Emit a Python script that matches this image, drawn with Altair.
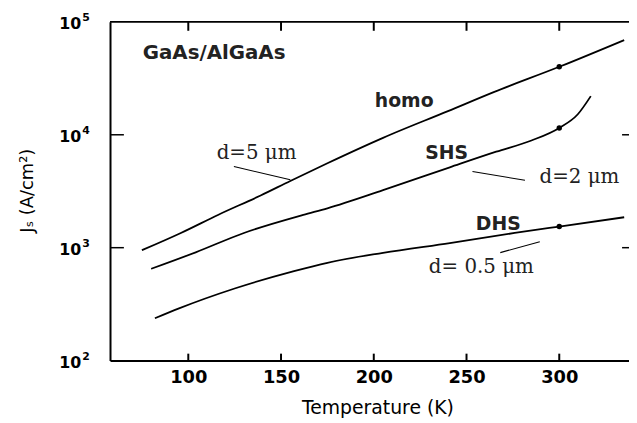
import altair as alt
import pandas as pd

# ---- data ----
homo_T = [75, 96, 116, 139, 155, 175, 205, 240, 265, 300, 335]
homo_J = [950, 1350, 1950, 2900, 3900, 5600, 9400, 16200, 24000, 40000, 69000]

shs_T = [80, 104, 130, 162, 175, 205, 241, 266, 285, 300, 310, 317]
shs_J = [650, 910, 1350, 1950, 2230, 3230, 5150, 7080, 8900, 11500, 15200, 22000]

dhs_T = [82, 95, 125, 157, 175, 205, 241, 276, 300, 335]
dhs_J = [237, 290, 435, 620, 735, 900, 1100, 1350, 1540, 1860]

dot_T = [300, 300, 300]
dot_J = [40000, 11500, 1540]

x_ticks = [100, 150, 200, 250, 300]
y_ticks = [100, 1000, 10000, 100000]
y_exp = ["2", "3", "4", "5"]
y_inner_ticks = [1000, 10000]

# annotations
curve_labels = ["homo", "SHS", "DHS"]
curve_label_T = [216.4, 239.3, 267.1]
curve_label_J = [19900, 6950, 1625]

d_labels = ["d=5 \u03bcm", "d=2 \u03bcm", "d= 0.5 \u03bcm"]
d_label_T = [136.8, 310.9, 258.0]
d_label_J = [6950, 4200, 668]

leader_T = [124.6, 253.2, 268.2]
leader_J = [5240, 4730, 904]
leader_T2 = [155.0, 281.5, 289.5]
leader_J2 = [3990, 3950, 1130]

system_label = "GaAs/AlGaAs"
system_T = 113.9
system_J = 52400

W, H = 524, 342
xscale = alt.Scale(domain=[57.8, 337.6], nice=False, zero=False)
yscale = alt.Scale(type="log", domain=[100, 100000], nice=False)

curves = pd.DataFrame(
    {"T": homo_T + shs_T + dhs_T,
     "J": homo_J + shs_J + dhs_J,
     "c": ["homo"] * len(homo_T) + ["SHS"] * len(shs_T) + ["DHS"] * len(dhs_T)}
)

lines = alt.Chart(curves).mark_line(color="black", strokeWidth=1.8, interpolate="monotone").encode(
    x=alt.X("T:Q", scale=xscale,
            axis=alt.Axis(values=x_ticks, ticks=False, grid=False, labelFont="DejaVu Sans",
                          labelFontWeight="bold", labelFontSize=18, labelColor="black",
                          labelPadding=8, domainColor="black", domainWidth=2,
                          title="Temperature (K)", titleFont="DejaVu Sans", titleFontSize=19,
                          titleFontWeight="normal", titleColor="black",
                          titleX=270, titleY=47, titleBaseline="middle", titleAlign="center")),
    y=alt.Y("J:Q", scale=yscale,
            axis=alt.Axis(values=y_ticks, labels=False, ticks=False, grid=False,
                          domainColor="black", domainWidth=2,
                          title="J\u209b (A/cm\u00b2)", titleFont="DejaVu Sans", titleFontSize=18,
                          titleFontWeight="normal", titleColor="black", titleAngle=270,
                          titleX=-83, titleY=170, titleAlign="center", titleBaseline="middle")),
    detail="c:N",
)

dots = alt.Chart(pd.DataFrame({"T": dot_T, "J": dot_J})).mark_circle(
    color="black", opacity=1, size=30).encode(
    x=alt.X("T:Q", scale=xscale), y=alt.Y("J:Q", scale=yscale))

clabels = alt.Chart(pd.DataFrame({"T": curve_label_T, "J": curve_label_J, "t": curve_labels})).mark_text(
    font="DejaVu Sans", fontWeight="bold", fontSize=19, color="#222222", baseline="middle", align="center").encode(
    x=alt.X("T:Q", scale=xscale), y=alt.Y("J:Q", scale=yscale), text="t:N")

dlabels = alt.Chart(pd.DataFrame({"T": d_label_T, "J": d_label_J, "t": d_labels})).mark_text(
    font="DejaVu Serif", fontSize=20, color="#222222", baseline="middle", align="center").encode(
    x=alt.X("T:Q", scale=xscale), y=alt.Y("J:Q", scale=yscale), text="t:N")

sys_label = alt.Chart(pd.DataFrame({"T": [system_T], "J": [system_J], "t": [system_label]})).mark_text(
    font="DejaVu Sans", fontWeight="bold", fontSize=20, color="#222222", baseline="middle", align="center").encode(
    x=alt.X("T:Q", scale=xscale), y=alt.Y("J:Q", scale=yscale), text="t:N")

leaders = alt.Chart(pd.DataFrame({"T": leader_T, "J": leader_J, "T2": leader_T2, "J2": leader_J2})).mark_rule(
    color="black", strokeWidth=1.1).encode(
    x=alt.X("T:Q", scale=xscale), y=alt.Y("J:Q", scale=yscale), x2="T2:Q", y2="J2:Q")

# y-axis labels 10^n drawn as base + exponent
ylab = pd.DataFrame({"J": y_ticks, "b": ["10"] * 4, "e": y_exp})
ybase = alt.Chart(ylab).mark_text(font="DejaVu Sans", fontWeight="bold", fontSize=16, color="black",
                                  align="right", baseline="middle", dy=2).encode(
    x=alt.value(-29), y=alt.Y("J:Q", scale=yscale), text="b:N")
yexp = alt.Chart(ylab).mark_text(font="DejaVu Sans", fontWeight="bold", fontSize=11, color="black",
                                 align="left", baseline="middle", dy=-4).encode(
    x=alt.value(-28), y=alt.Y("J:Q", scale=yscale), text="e:N")

# inward ticks and top frame
xt = pd.DataFrame({"T": x_ticks})
xt_bottom = alt.Chart(xt).mark_rule(color="black", strokeWidth=2).encode(
    x=alt.X("T:Q", scale=xscale), y=alt.value(H), y2=alt.value(H - 7))
xt_top = alt.Chart(xt).mark_rule(color="black", strokeWidth=2).encode(
    x=alt.X("T:Q", scale=xscale), y=alt.value(0), y2=alt.value(9))
yt = pd.DataFrame({"J": y_inner_ticks})
yt_left = alt.Chart(yt).mark_rule(color="black", strokeWidth=1.5).encode(
    y=alt.Y("J:Q", scale=yscale), x=alt.value(0), x2=alt.value(14))
yt_right = alt.Chart(yt).mark_rule(color="black", strokeWidth=1.5).encode(
    y=alt.Y("J:Q", scale=yscale), x=alt.value(W - 7), x2=alt.value(W))
top_frame = alt.Chart(pd.DataFrame({"a": [0]})).mark_rule(color="black", strokeWidth=2).encode(
    x=alt.value(0), x2=alt.value(W), y=alt.value(0))

chart = alt.layer(
    lines, dots, leaders, clabels, dlabels, sys_label, ybase, yexp,
    xt_bottom, xt_top, yt_left, yt_right, top_frame
).properties(
    width=W, height=H,
    autosize=alt.AutoSizeParams(type="none"),
    padding={"left": 103, "top": 12, "right": 0, "bottom": 60},
    background="white",
).configure_view(stroke=None)

chart.save("out.html", embed_options={"renderer": "svg", "actions": False})
